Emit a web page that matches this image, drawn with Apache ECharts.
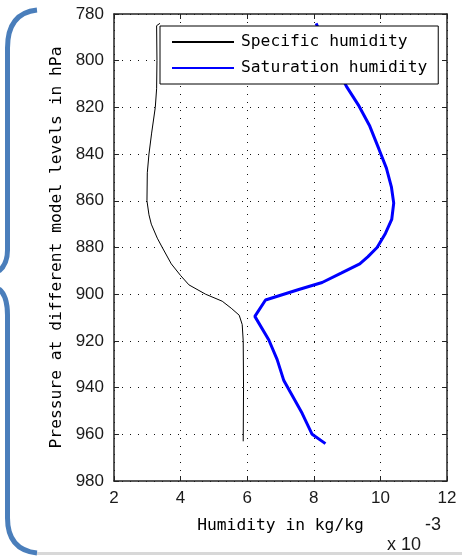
<!DOCTYPE html>
<html>
<head>
<meta charset="utf-8">
<script src="https://cdn.jsdelivr.net/npm/echarts@6/dist/echarts.min.js"></script>
<style>
html,body{margin:0;padding:0;background:#fff;}
#chart{width:462px;height:558px;}
</style>
</head>
<body>
<div id="chart"></div>
<script>
// Pressure levels (hPa) and humidity values (in units of 1e-3 kg/kg)
const seriesNames = ['Specific humidity', 'Saturation humidity'];

const pressureSpecific = [784, 785, 800, 812, 820, 831, 840, 848, 860, 866, 870, 876, 880, 887, 892, 896, 900, 903, 906, 909, 913, 920, 940, 963];
const specificHumidity = [3.38, 3.28, 3.29, 3.28, 3.24, 3.13, 3.05, 3.0, 2.99, 3.05, 3.12, 3.3, 3.45, 3.72, 4.0, 4.25, 4.75, 5.25, 5.52, 5.76, 5.85, 5.88, 5.89, 5.88];

const pressureSaturation = [784, 798, 811, 819, 828, 838, 846, 854, 861, 868, 874, 880, 884, 887, 891, 895, 898, 902.5, 909.5, 919.6, 928, 937, 951, 960, 964];
const saturationHumidity = [8.07, 8.5, 8.98, 9.34, 9.68, 9.96, 10.18, 10.33, 10.4, 10.34, 10.15, 9.9, 9.62, 9.38, 8.82, 8.25, 7.55, 6.55, 6.23, 6.65, 6.9, 7.1, 7.65, 7.95, 8.35];

const xTickValues = [2, 4, 6, 8, 10, 12];
const yTickValues = [780, 800, 820, 840, 860, 880, 900, 920, 940, 960, 980];

const xLabel = 'Humidity in kg/kg';
const yLabel = 'Pressure at different model levels in hPa';
const exponentBase = 'x 10';
const exponentPower = '-3';

const monoFont = "'DejaVu Sans Mono', monospace";
const tickFont = "'Liberation Sans Narrow', 'Liberation Sans', Arial, sans-serif";

const chart = echarts.init(document.getElementById('chart'), null, {renderer: 'canvas'});

const gridLine = {show: true, lineStyle: {color: '#111', type: [1, 7], width: 1}};
const axisLine = {show: true, onZero: false, lineStyle: {color: '#222', width: 1.5}};
const tick = {show: true, inside: true, length: 5, lineStyle: {color: '#222', width: 1}};

const xMin = xTickValues[0], xMax = xTickValues[xTickValues.length - 1];
const yMin = yTickValues[0], yMax = yTickValues[yTickValues.length - 1];

const braceStyle = {stroke: '#4a7ebb', lineWidth: 5, fill: null};

chart.setOption({
  backgroundColor: '#fff',
  animation: false,
  grid: {left: 114, right: 15, top: 14, bottom: 77, containLabel: false},
  xAxis: [
    {
      type: 'value', position: 'bottom', min: xMin, max: xMax, interval: 2,
      axisLine: axisLine, axisTick: tick, splitLine: gridLine,
      axisLabel: {margin: 9, fontFamily: tickFont, fontSize: 17, color: '#1a1a1a'},
      name: xLabel, nameLocation: 'middle', nameGap: 45,
      nameTextStyle: {fontFamily: monoFont, fontSize: 16.3, color: '#000', verticalAlign: 'middle'}
    },
    {
      type: 'value', position: 'top', min: xMin, max: xMax, interval: 2,
      axisLine: axisLine, axisTick: tick, splitLine: {show: false}, axisLabel: {show: false}
    }
  ],
  yAxis: [
    {
      type: 'value', position: 'left', inverse: true, min: yMin, max: yMax, interval: 20,
      axisLine: axisLine, axisTick: tick, splitLine: gridLine,
      axisLabel: {margin: 10, fontFamily: tickFont, fontSize: 17, color: '#1a1a1a'},
      name: yLabel, nameLocation: 'middle', nameGap: 57, nameRotate: 90,
      nameTextStyle: {fontFamily: monoFont, fontSize: 16.3, color: '#000', verticalAlign: 'middle'}
    },
    {
      type: 'value', position: 'right', inverse: true, min: yMin, max: yMax, interval: 20,
      axisLine: axisLine, axisTick: tick, splitLine: {show: false}, axisLabel: {show: false}
    }
  ],
  legend: {
    orient: 'vertical', left: 160, top: 26,
    padding: [6, 11, 6, 11], itemGap: 6, itemWidth: 62, itemHeight: 20,
    borderColor: '#000', borderWidth: 1, borderRadius: 0, backgroundColor: '#fff',
    itemStyle: {color: 'rgba(0,0,0,0)', borderColor: 'rgba(0,0,0,0)', borderWidth: 0, opacity: 0},
    textStyle: {fontFamily: monoFont, fontSize: 16.3, color: '#000', lineHeight: 20, padding: [0, 0, 0, 2]},
    data: seriesNames
  },
  series: [
    {
      name: seriesNames[0], type: 'line', xAxisIndex: 0, yAxisIndex: 0,
      symbol: 'none', showSymbol: false, smooth: false,
      lineStyle: {color: '#000', width: 1}, itemStyle: {color: '#000'},
      data: pressureSpecific.map((p, i) => [specificHumidity[i], p])
    },
    {
      name: seriesNames[1], type: 'line', xAxisIndex: 0, yAxisIndex: 0,
      symbol: 'none', showSymbol: false, smooth: false,
      lineStyle: {color: '#0000ff', width: 3}, itemStyle: {color: '#0000ff'},
      data: pressureSaturation.map((p, i) => [saturationHumidity[i], p])
    }
  ],
  graphic: [
    {type: 'bezierCurve', shape: {x1: 37, y1: 10, cpx1: 18, cpy1: 12, cpx2: 7.5, cpy2: 24, x2: 7.5, y2: 48}, style: braceStyle, z: 10},
    {type: 'line', shape: {x1: 7.5, y1: 48, x2: 7.5, y2: 250}, style: braceStyle, z: 10},
    {type: 'bezierCurve', shape: {x1: 7.5, y1: 250, cpx1: 7.5, cpy1: 261, cpx2: 4, cpy2: 267, x2: -1, y2: 271}, style: braceStyle, z: 10},
    {type: 'bezierCurve', shape: {x1: -1, y1: 289, cpx1: 4, cpy1: 293, cpx2: 7.5, cpy2: 300, x2: 7.5, y2: 315}, style: braceStyle, z: 10},
    {type: 'line', shape: {x1: 7.5, y1: 315, x2: 7.5, y2: 518}, style: braceStyle, z: 10},
    {type: 'bezierCurve', shape: {x1: 7.5, y1: 518, cpx1: 7.5, cpy1: 540, cpx2: 18, cpy2: 551, x2: 37, y2: 553}, style: braceStyle, z: 10},
    {type: 'text', left: 425, top: 516, style: {text: exponentPower, font: "18px " + tickFont, fill: '#1a1a1a'}, z: 10},
    {type: 'text', left: 387, top: 536, style: {text: exponentBase, font: "18px " + tickFont, fill: '#1a1a1a'}, z: 10},
    {type: 'rect', shape: {x: 37, y: 552, width: 425, height: 3}, style: {fill: '#d8d8d8'}, z: 11}
  ]
});
</script>
</body>
</html>
